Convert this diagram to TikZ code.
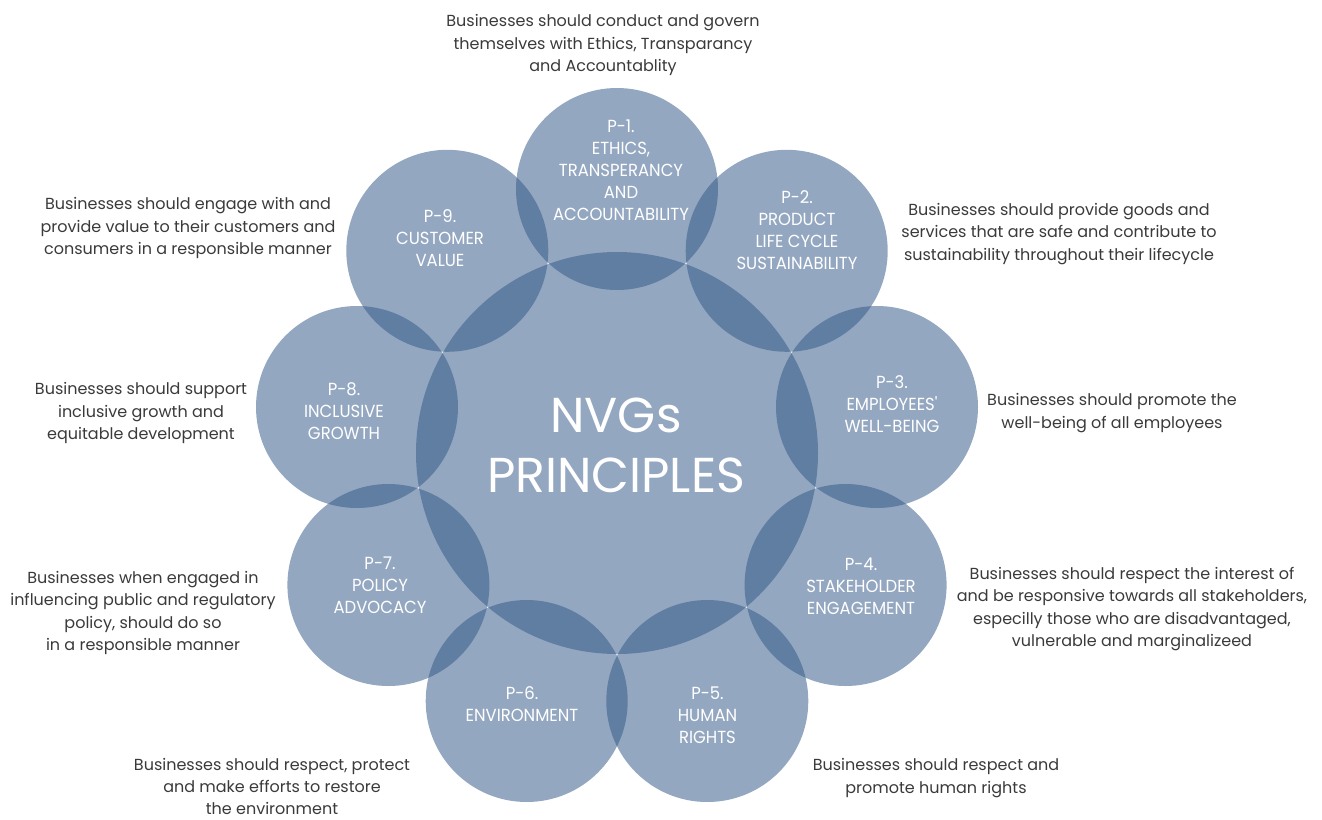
\documentclass[tikz,border=0pt]{standalone}
\usepackage{fontspec}
\setmainfont{Poppins}
\newfontfamily\lblfont[FakeStretch=0.94]{Poppins}
\definecolor{bubble}{HTML}{94A7C1}
\definecolor{lens}{HTML}{607EA2}
\definecolor{desc}{HTML}{3A3A3A}
\tikzset{
  bub/.style={circle, fill=bubble, inner sep=0pt, outer sep=0pt, minimum size=202pt},
  hub/.style={circle, fill=bubble, inner sep=0pt, outer sep=0pt, minimum size=402pt},
  lbl/.style={align=center, text=white, inner sep=0pt, font=\lblfont\fontsize{17.5}{22}\selectfont},
  big/.style={align=center, text=white, inner sep=0pt, font=\fontsize{49}{60}\selectfont},
  dsc/.style={align=center, text=desc, inner sep=0pt, font=\fontsize{16}{22.3}\selectfont}
}
\begin{document}
\begin{tikzpicture}[x=1pt, y=-1pt]
\useasboundingbox (0,0) rectangle (1322,819);
% circles
\node[hub] (c) at (617,453) {};
\node[bub] (p1) at (617,189) {};
\node[bub] (p2) at (786.7,250.8) {};
\node[bub] (p3) at (877,407) {};
\node[bub] (p4) at (845.6,585) {};
\node[bub] (p5) at (707.3,701) {};
\node[bub] (p6) at (526.7,701) {};
\node[bub] (p7) at (388.4,585) {};
\node[bub] (p8) at (357,407) {};
\node[bub] (p9) at (447.3,250.8) {};
% overlaps with the hub
\foreach \p in {p1,p2,p3,p4,p5,p6,p7,p8,p9}{
  \begin{scope}
    \clip (c.center) circle[radius=201pt];
    \fill[lens] (\p.center) circle[radius=101pt];
  \end{scope}
}
% overlaps between neighbours
\foreach \a/\b in {p1/p2,p2/p3,p3/p4,p4/p5,p5/p6,p6/p7,p7/p8,p8/p9,p9/p1}{
  \begin{scope}
    \clip (\a.center) circle[radius=101pt];
    \fill[lens] (\b.center) circle[radius=101pt];
  \end{scope}
}
% circle labels
\node[big] (tc) at (616,445) {NVGs\\PRINCIPLES};
\node[lbl] (t1) at (621,170) {P-1.\\ETHICS,\\TRANSPERANCY\\AND\\ACCOUNTABILITY};
\node[lbl] (t2) at (797,230) {P-2.\\PRODUCT\\LIFE CYCLE\\SUSTAINABILITY};
\node[lbl] (t3) at (892,404.5) {P-3.\\EMPLOYEES'\\WELL-BEING};
\node[lbl] (t4) at (861,586.5) {P-4.\\STAKEHOLDER\\ENGAGEMENT};
\node[lbl] (t5) at (707.5,715) {P-5.\\HUMAN\\RIGHTS};
\node[lbl] (t6) at (522,704) {P-6.\\ENVIRONMENT};
\node[lbl] (t7) at (380,585) {P-7.\\POLICY\\ADVOCACY};
\node[lbl] (t8) at (344,411.5) {P-8.\\INCLUSIVE\\GROWTH};
\node[lbl] (t9) at (440,238) {P-9.\\CUSTOMER\\VALUE};
% descriptions
\node[dsc] (d1) at (603,45) {Businesses should conduct and govern\\themselves with Ethics, Transparancy\\and Accountablity};
\node[dsc] (d2) at (1059,234) {Businesses should provide goods and\\services that are safe and contribute to\\sustainability throughout their lifecycle};
\node[dsc] (d3) at (1112,413) {Businesses should promote the\\well-being of all employees};
\node[dsc] (d4) at (1132,609) {Businesses should respect the interest of\\and be responsive towards all stakeholders,\\especilly those who are disadvantaged,\\vulnerable and marginalizeed};
\node[dsc] (d5) at (936,778) {Businesses should respect and\\promote human rights};
\node[dsc] (d6) at (272,786.5) {Businesses should respect, protect\\and make efforts to restore\\the environment};
\node[dsc] (d7) at (143,613) {Businesses when engaged in\\influencing public and regulatory\\policy, should do so\\in a responsible manner};
\node[dsc] (d8) at (141,413) {Businesses should support\\inclusive growth and\\equitable development};
\node[dsc] (d9) at (188,228) {Businesses should engage with and\\provide value to their customers and\\consumers in a responsible manner};
\end{tikzpicture}
\end{document}
